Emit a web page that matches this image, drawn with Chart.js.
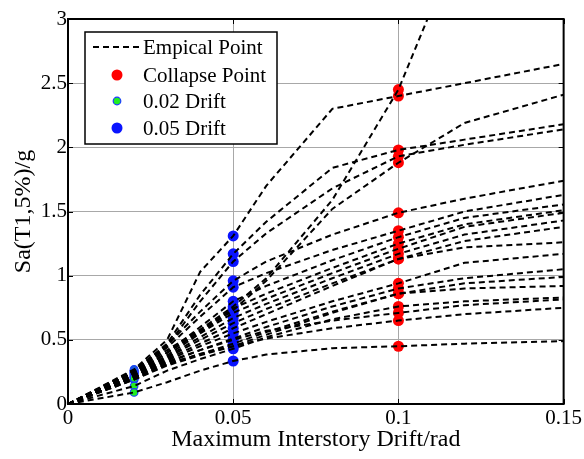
<!DOCTYPE html>
<html>
<head>
<meta charset="utf-8">
<script src="https://cdn.jsdelivr.net/npm/chart.js@4.4.1/dist/chart.umd.min.js"></script>
<style>
  html, body { margin: 0; padding: 0; background: #fff; }
  #wrap { width: 584px; height: 459px; }
</style>
</head>
<body>
<div id="wrap"><canvas id="idaChart"></canvas></div>
<script>
// drift levels (rad) where each IDA curve is sampled
const drift = [0, 0.02, 0.03, 0.04, 0.05, 0.06, 0.08, 0.1, 0.12, 0.15];

// Sa(T1,5%)/g for each record at the drift levels above (null = curve left the plot)
const saCurves = [
  [0, 0.27, 0.50, 1.03, 1.31, 1.70, 2.30, 2.40, 2.50, 2.65],
  [0, 0.25, 0.42, 0.58, 0.76, 0.98, 1.59, 2.45, 3.70, null],
  [0, 0.26, 0.47, 0.85, 1.17, 1.42, 1.84, 1.98, 2.06, 2.18],
  [0, 0.24, 0.40, 0.56, 0.73, 0.96, 1.52, 1.88, 2.19, 2.41],
  [0, 0.25, 0.45, 0.80, 1.11, 1.33, 1.68, 1.93, 2.02, 2.14],
  [0, 0.26, 0.46, 0.72, 0.96, 1.11, 1.32, 1.49, 1.60, 1.74],
  [0, 0.25, 0.44, 0.68, 0.91, 1.02, 1.20, 1.35, 1.50, 1.63],
  [0, 0.24, 0.40, 0.60, 0.80, 0.92, 1.12, 1.30, 1.45, 1.555],
  [0, 0.23, 0.40, 0.57, 0.745, 0.86, 1.06, 1.25, 1.40, 1.51],
  [0, 0.23, 0.38, 0.55, 0.71, 0.82, 1.02, 1.21, 1.38, 1.49],
  [0, 0.22, 0.37, 0.52, 0.67, 0.78, 0.98, 1.17, 1.32, 1.43],
  [0, 0.22, 0.36, 0.50, 0.63, 0.74, 0.94, 1.13, 1.27, 1.38],
  [0, 0.21, 0.35, 0.47, 0.59, 0.70, 0.92, 1.13, 1.22, 1.26],
  [0, 0.21, 0.34, 0.45, 0.55, 0.64, 0.80, 0.94, 1.10, 1.17],
  [0, 0.20, 0.32, 0.42, 0.51, 0.60, 0.76, 0.90, 0.98, 1.05],
  [0, 0.19, 0.31, 0.39, 0.47, 0.56, 0.72, 0.86, 0.94, 0.99],
  [0, 0.19, 0.30, 0.38, 0.45, 0.54, 0.71, 0.86, 0.90, 0.92],
  [0, 0.14, 0.26, 0.35, 0.43, 0.52, 0.66, 0.76, 0.80, 0.83],
  [0, 0.21, 0.33, 0.42, 0.50, 0.57, 0.65, 0.71, 0.77, 0.815],
  [0, 0.20, 0.31, 0.39, 0.45, 0.51, 0.59, 0.65, 0.70, 0.75],
  [0, 0.09, 0.17, 0.26, 0.335, 0.385, 0.435, 0.45, 0.47, 0.49]
];

const collapseDrift = 0.1;
const markDrifts = [0.02, 0.05];
const xTicks = [0, 0.05, 0.1, 0.15];
const yTicks = [0, 0.5, 1, 1.5, 2, 2.5, 3];
const xLabel = 'Maximum Interstory Drift/rad';
const yLabel = 'Sa(T1,5%)/g';
const legendLabels = ['Empical Point', 'Collapse Point', '0.02 Drift', '0.05 Drift'];

const FONT = '"Liberation Serif", "Times New Roman", serif';

// pick the Sa value of every curve at a given drift
const atDrift = (d) => saCurves.map(c => ({ x: d, y: c[drift.indexOf(d)] }));

const curveSets = saCurves.map((c, i) => ({
  label: i === 0 ? legendLabels[0] : '',
  data: c.map((y, k) => ({ x: drift[k], y: y })).filter(p => p.y !== null),
  showLine: true,
  borderColor: '#000',
  borderWidth: 2,
  borderDash: [6, 4],
  pointRadius: 0,
  pointHoverRadius: 0,
  fill: false
}));

const collapseSet = {
  label: legendLabels[1],
  data: atDrift(collapseDrift),
  backgroundColor: '#ff0000',
  borderColor: '#ff0000',
  pointRadius: 5.5,
  borderWidth: 0
};
const drift02Set = {
  label: legendLabels[2],
  data: atDrift(markDrifts[0]),
  backgroundColor: '#22ee22',
  borderColor: '#1a3cff',
  pointRadius: 3.8,
  borderWidth: 1.2
};
const drift05Set = {
  label: legendLabels[3],
  data: atDrift(markDrifts[1]),
  backgroundColor: '#0a14ff',
  borderColor: '#0a14ff',
  pointRadius: 5.5,
  borderWidth: 0
};

// full black box plus inward ticks, matlab style
const boxPlugin = {
  id: 'boxTicks',
  afterDatasetsDraw(chart) {
    const { ctx, chartArea: a, scales } = chart;
    ctx.save();
    ctx.strokeStyle = '#000';
    ctx.lineWidth = 1;
    const len = 5;
    xTicks.forEach(v => {
      const px = Math.round(scales.x.getPixelForValue(v)) + 0.5;
      ctx.beginPath();
      ctx.moveTo(px, a.bottom); ctx.lineTo(px, a.bottom - len);
      ctx.moveTo(px, a.top); ctx.lineTo(px, a.top + len);
      ctx.stroke();
    });
    yTicks.forEach(v => {
      const py = Math.round(scales.y.getPixelForValue(v)) + 0.5;
      ctx.beginPath();
      ctx.moveTo(a.left, py); ctx.lineTo(a.left + len, py);
      ctx.moveTo(a.right, py); ctx.lineTo(a.right - len, py);
      ctx.stroke();
    });
    ctx.lineWidth = 2;
    ctx.strokeRect(a.left, a.top, a.right - a.left, a.bottom - a.top);
    ctx.restore();
  }
};

// legend box drawn inside the upper-left of the plot
const legendPlugin = {
  id: 'insideLegend',
  afterDraw(chart) {
    const { ctx, chartArea: a } = chart;
    const x0 = a.left + 17, y0 = a.top + 13, w = 192, h = 112;
    const rowY = [y0 + 15, y0 + 43, y0 + 69, y0 + 96];
    const markX = x0 + 32, textX = x0 + 58;
    ctx.save();
    ctx.fillStyle = '#fff';
    ctx.fillRect(x0, y0, w, h);
    ctx.strokeStyle = '#000';
    ctx.lineWidth = 1.5;
    ctx.strokeRect(x0, y0, w, h);

    // dashed sample
    ctx.lineWidth = 2;
    ctx.setLineDash([6, 4]);
    ctx.beginPath();
    ctx.moveTo(x0 + 8, rowY[0]); ctx.lineTo(x0 + 54, rowY[0]);
    ctx.stroke();
    ctx.setLineDash([]);

    const dot = (y, set) => {
      ctx.beginPath();
      ctx.arc(markX, y, set.pointRadius, 0, Math.PI * 2);
      ctx.fillStyle = set.backgroundColor;
      ctx.fill();
      if (set.borderWidth) {
        ctx.lineWidth = set.borderWidth;
        ctx.strokeStyle = set.borderColor;
        ctx.stroke();
      }
    };
    dot(rowY[1], collapseSet);
    dot(rowY[2], drift02Set);
    dot(rowY[3], drift05Set);

    ctx.fillStyle = '#000';
    ctx.font = '21px ' + FONT;
    ctx.textBaseline = 'middle';
    legendLabels.forEach((t, i) => ctx.fillText(t, textX, rowY[i] + 1));
    ctx.restore();
  }
};

new Chart(document.getElementById('idaChart'), {
  type: 'scatter',
  data: { datasets: [...curveSets, collapseSet, drift02Set, drift05Set] },
  options: {
    responsive: true,
    maintainAspectRatio: false,
    animation: false,
    events: [],
    layout: { padding: { top: 19, right: 17, left: 0, bottom: 0 } },
    plugins: {
      legend: { display: false },
      tooltip: { enabled: false }
    },
    scales: {
      x: {
        type: 'linear',
        min: 0,
        max: 0.15,
        afterBuildTicks: (s) => { s.ticks = xTicks.map(v => ({ value: v })); },
        afterFit: (s) => { s.height = 55; },
        ticks: {
          color: '#000',
          padding: 2,
          font: { family: FONT, size: 21 },
          callback: (v) => String(v)
        },
        grid: { color: '#a8a8a8', lineWidth: 1, drawTicks: false },
        border: { color: '#000', width: 2 },
        title: {
          display: true,
          text: xLabel,
          color: '#000',
          font: { family: FONT, size: 24 },
          padding: { top: 0, bottom: 5 }
        }
      },
      y: {
        type: 'linear',
        min: 0,
        max: 3,
        afterBuildTicks: (s) => { s.ticks = yTicks.map(v => ({ value: v })); },
        afterFit: (s) => { s.width = 68; },
        ticks: {
          color: '#000',
          padding: 1,
          font: { family: FONT, size: 21 },
          callback: (v) => String(v)
        },
        grid: { color: '#a8a8a8', lineWidth: 1, drawTicks: false },
        border: { color: '#000', width: 2 },
        title: {
          display: true,
          text: yLabel,
          color: '#000',
          font: { family: FONT, size: 24 },
          padding: { top: 9, bottom: 0 }
        }
      }
    }
  },
  plugins: [boxPlugin, legendPlugin]
});
</script>
</body>
</html>
